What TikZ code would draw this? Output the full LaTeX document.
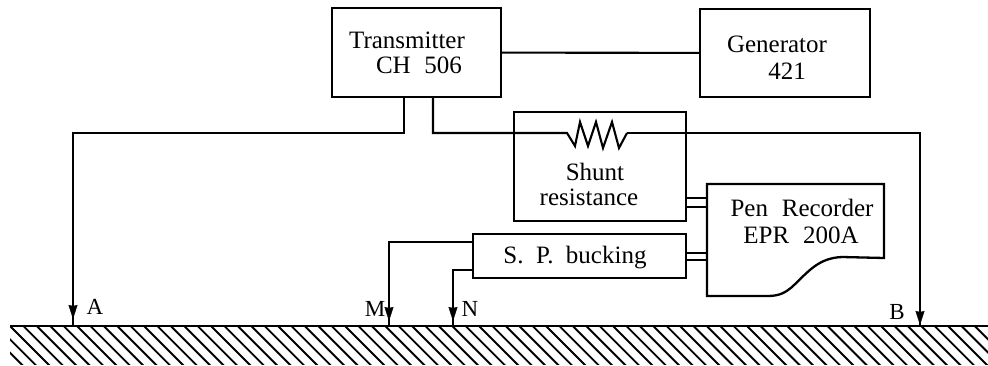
\documentclass[tikz,border=0pt]{standalone}
\usepackage{fontspec}
\setmainfont{Liberation Serif}
\usetikzlibrary{arrows.meta}
\tikzset{
  x=1pt,y=-1pt,
  wire/.style={line width=2.1pt,line join=miter},
  box/.style={draw,line width=2.3pt,minimum width=#1,inner sep=0pt,outer sep=0pt},
  lbl/.style={inner sep=0pt,font=\fontsize{25}{27}\selectfont},
  letterlbl/.style={inner sep=0pt,font=\fontsize{23}{25}\selectfont},
  tip/.style={draw=none,-{Stealth[length=14pt,width=9pt,inset=1pt]}},
  hatch/.style={line width=1.9pt}
}
\begin{document}
\begin{tikzpicture}
\useasboundingbox (0,0) rectangle (988,366);
% boxes
\node[box=169pt,minimum height=89pt] (tx) at (416.5,52.5) {};
\node[box=170pt,minimum height=88pt] (gen) at (785,53) {};
\node[box=172pt,minimum height=109pt] (shunt) at (600,166.5) {};
\node[box=213pt,minimum height=44pt] (sp) at (579.5,256) {};
% pen recorder outline
\coordinate (pnw) at (707,184);
\coordinate (pne) at (884,184);
\coordinate (pse) at (884,258);
\coordinate (psw) at (707,296);
\draw[line width=2.3pt,line join=miter] (pnw) -- (pne) -- (pse) -- (842,257)
  .. controls (818,258) and (808,272) .. (792,287)
  .. controls (786,292) and (780,296) .. (768,296) -- (psw) -- cycle;
% labels
\node[lbl] (t1) at (407,40) {Transmitter};
\node[lbl] (t2) at (419,65) {CH\hspace{0.3em} 506};
\node[lbl] (g1) at (777,44) {Generator};
\node[lbl] (g2) at (787,71) {421};
\node[lbl] (s1) at (595,172) {Shunt};
\node[lbl] (s2) at (589,197) {resistance};
\node[lbl] (b1) at (575,258) {S.\hspace{0.25em} P.\hspace{0.25em} bucking};
\node[lbl] (p1) at (802,208) {Pen\hspace{0.3em} Recorder};
\node[lbl] (p2) at (801,235) {EPR\hspace{0.3em} 200A};
\node[letterlbl] (la) at (95,307) {A};
\node[letterlbl] (lm) at (375,309) {M};
\node[letterlbl] (ln) at (470,309) {N};
\node[letterlbl] (lb) at (897,312) {B};
% ground
\coordinate (g0) at (10,326);
\coordinate (g9) at (988,326);
\coordinate (ga) at (73,326);
\coordinate (gm) at (389,326);
\coordinate (gn) at (453,326);
\coordinate (gb) at (920,326);
\draw[wire] (g0) -- (g9);
\begin{scope}
\clip (10,326) rectangle (988,364);
\foreach \i in {-3,...,73}
  \draw[hatch] ({10+13.4*\i},326) -- ({50+13.4*\i},366);
\end{scope}
% connectors
\draw (tx) edge[wire] (gen);
\coordinate (txl) at (404,97);
\coordinate (txr) at (433,97);
\draw[wire] (txl) -- (404,133) -| (ga);
\coordinate (res1) at (567,133);
\coordinate (res2) at (627,133);
\draw[wire] (txr) -- (433,133) -- (res1)
  -- (575,146) -- (580,122) -- (588,146) -- (596,122) -- (603,148) -- (612,122) -- (619,148) -- (res2);
\draw[wire] (res2) -- (920,133) -- (gb);
\coordinate (spm) at (473,242);
\coordinate (spn) at (473,270);
\draw[wire] (spm) -| (gm);
\draw[wire] (spn) -| (gn);
% arrowheads on the leads, above the ground line
\path[tip,draw] (73,300) -- (73,319);
\path[tip,draw] (389,302) -- (389,321);
\path[tip,draw] (453,302) -- (453,321);
\path[tip,draw] (920,306) -- (920,325);
% double leads
\foreach \yy in {198,207,253,260}
  \draw[line width=1.8pt] (shunt.east |- 0,\yy) -- (pnw |- 0,\yy);
\end{tikzpicture}
\end{document}
